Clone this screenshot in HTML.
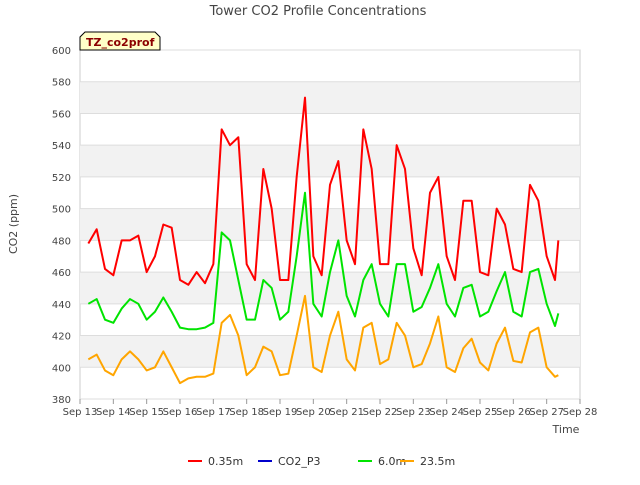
<!DOCTYPE html>
<html><head><meta charset="utf-8"><style>
body{margin:0;background:#fff;font-family:"Liberation Sans","DejaVu Sans",sans-serif}
svg text{font-family:"DejaVu Sans","Liberation Sans",sans-serif}
</style></head><body>
<svg id="c" width="640" height="480">
<g id="bands"></g><g id="grid"></g>
<text x="318" y="15" text-anchor="middle" font-size="13" fill="#444">Tower CO2 Profile Concentrations</text>
<text transform="translate(17,224) rotate(-90)" text-anchor="middle" font-size="11" fill="#444">CO2 (ppm)</text>
<text x="566" y="433" text-anchor="middle" font-size="11" fill="#444">Time</text>
<g id="ticks"></g><g id="series"></g>
<g><path d="M80,50 V37 L85,32 H155 L160,37 V50 Z" fill="#ffffc8" stroke="#000"/>
<text x="86" y="46" font-size="11" font-weight="bold" fill="#8b0000">TZ_co2prof</text></g>
<g id="legend"></g>
</svg>
<script>
const days=[13.25,13.5,13.75,14,14.25,14.5,14.75,15,15.25,15.5,15.75,16,16.25,16.5,16.75,17,17.25,17.5,17.75,18,18.25,18.5,18.75,19,19.25,19.5,19.75,20,20.25,20.5,20.75,21,21.25,21.5,21.75,22,22.25,22.5,22.75,23,23.25,23.5,23.75,24,24.25,24.5,24.75,25,25.25,25.5,25.75,26,26.25,26.5,26.75,27,27.25,27.35];
const red=[478,487,462,458,480,480,483,460,470,490,488,455,452,460,453,465,550,540,545,465,455,525,500,455,455,520,570,470,458,515,530,480,465,550,525,465,465,540,525,475,458,510,520,470,455,505,505,460,458,500,490,462,460,515,505,470,455,480];
const green=[440,443,430,428,437,443,440,430,435,444,435,425,424,424,425,428,485,480,455,430,430,455,450,430,435,470,510,440,432,460,480,445,432,455,465,440,432,465,465,435,438,450,465,440,432,450,452,432,435,448,460,435,432,460,462,440,426,434];
const orange=[405,408,398,395,405,410,405,398,400,410,400,390,393,394,394,396,428,433,420,395,400,413,410,395,396,420,445,400,397,420,435,405,398,425,428,402,405,428,420,400,402,415,432,400,397,412,418,403,398,415,425,404,403,422,425,400,394,395];
const yTicks=[380,400,420,440,460,480,500,520,540,560,580,600];
const xTicks=[13,14,15,16,17,18,19,20,21,22,23,24,25,26,27,28];
const X=d=>80+(d-13)*500/15, Y=v=>399-(v-380)*349/220;
const NS="http://www.w3.org/2000/svg";
function mk(t,p,a){const e=document.createElementNS(NS,t);for(const k in a)e.setAttribute(k,a[k]);p.appendChild(e);return e;}
const bands=document.getElementById('bands'),grid=document.getElementById('grid'),ticks=document.getElementById('ticks');
mk('rect',bands,{x:80,y:50,width:500,height:349,fill:'#fff',stroke:'#ccc'});
for(let i=0;i<yTicks.length-1;i++){if(i%2===1){const r=mk('rect',bands,{x:80,y:Y(yTicks[i+1]),width:500,height:Y(yTicks[i])-Y(yTicks[i+1]),fill:'#f2f2f2'});

}}
yTicks.forEach(v=>{mk('line',grid,{x1:80,x2:580,y1:Y(v),y2:Y(v),stroke:'#ddd'});
const t=mk('text',ticks,{x:71,y:Y(v)+4,'text-anchor':'end','font-size':10,fill:'#444'});t.textContent=v;

});
xTicks.forEach(d=>{mk('line',ticks,{x1:X(d),x2:X(d),y1:399,y2:404,stroke:'#999'});
const t=mk('text',ticks,{x:X(d),y:415,'text-anchor':'middle','font-size':10,fill:'#444'});t.textContent='Sep '+d;

});
const S=document.getElementById('series');
[[red,'#ff0000','series-0-35m'],[green,'#00e400','series-6-0m'],[orange,'#ffa500','series-23-5m']].forEach(([vals,c,n])=>{
const p=mk('polyline',S,{points:vals.map((v,i)=>X(days[i])+','+Y(v)).join(' '),fill:'none',stroke:c,'stroke-width':2,'stroke-linejoin':'round'});

});
const L=document.getElementById('legend');
[['0.35m','#ff0000',188],['CO2_P3','#0000cc',258],['6.0m','#00e400',358],['23.5m','#ffa500',400]].forEach(([l,c,x])=>{
const g=mk('g',L,{});


mk('line',g,{x1:x,x2:x+14,y1:461,y2:461,stroke:c,'stroke-width':2});
const t=mk('text',g,{x:x+20,y:465,'font-size':11,fill:'#333'});t.textContent=l;});
</script>
</body></html>
